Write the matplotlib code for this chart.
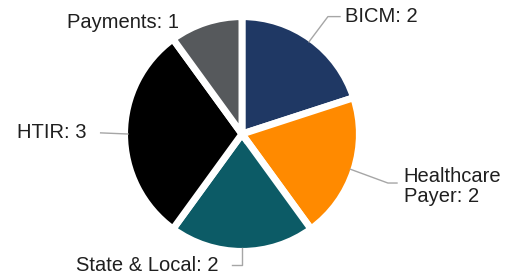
import numpy as np
import matplotlib
matplotlib.use("Agg")
import matplotlib.pyplot as plt

plt.rcParams['font.family'] = ['Liberation Sans', 'DejaVu Sans']

labels = ["BICM", "Healthcare\nPayer", "State & Local", "HTIR", "Payments"]
values = [2, 2, 2, 3, 1]
colors = ["#1f3864", "#ff8a00", "#0c5b66", "#000000", "#56595c"]

# label text placement (data coords) and leader line elbows
text_pos = [(0.90, 1.03), (1.42, -0.46), (-0.21, -1.15), (-1.36, 0.01), (-1.04, 0.98)]
text_ha = ["left", "left", "right", "right", "center"]
elbows = [[(0.754, 1.03), (0.86, 1.03)],
          [(1.28, -0.43), (1.36, -0.43)],
          [(0.0, -1.15), (-0.09, -1.15)],
          [(-1.24, 0.01)],
          None]

fig = plt.figure(figsize=(5.19, 2.77), dpi=100)
ax = fig.add_axes([0.2466, 0.1047, 0.4393, 0.823])

wedges, _ = ax.pie(values, colors=colors, startangle=90, counterclock=False,
                   radius=1.03,
                   wedgeprops=dict(edgecolor="white", linewidth=5))
ax.set_xlim(-1, 1)
ax.set_ylim(-1, 1)

for w, lab, v, tp, ha, elb in zip(wedges, labels, values, text_pos, text_ha, elbows):
    mid = np.deg2rad((w.theta1 + w.theta2) / 2)
    if elb is not None:
        pts = [(np.cos(mid) * 1.0, np.sin(mid) * 1.0)] + elb
        xs, ys = zip(*pts)
        ax.plot(xs, ys, color="#a6a6a6", lw=1, clip_on=False)
    ax.text(tp[0], tp[1], f"{lab}: {v}", ha=ha, va="center", fontsize=14.5,
            color="#1f1f1f", clip_on=False, linespacing=1.05)

fig.savefig("out.png", dpi=100)
